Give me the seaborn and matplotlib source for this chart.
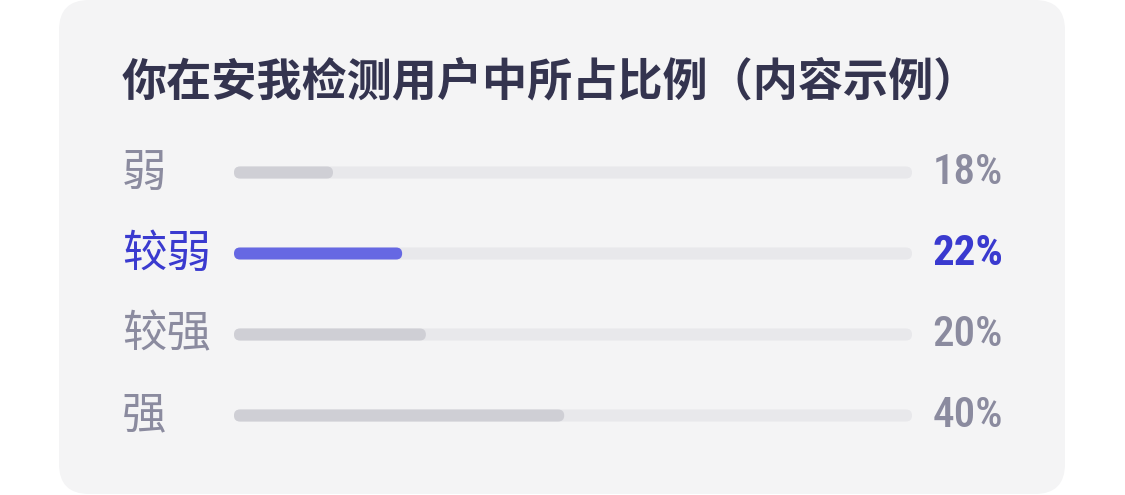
import matplotlib
matplotlib.use("Agg")
import matplotlib.pyplot as plt
from matplotlib import font_manager
from matplotlib.patches import FancyBboxPatch
import seaborn as sns
import pandas as pd

# data
levels = ["弱", "较弱", "较强", "强"]
bar_fill = [14.6, 24.8, 28.3, 48.7]      # filled share of each track (the mockup's bars)
pct_labels = [18, 22, 20, 40]             # percentages printed on the right
highlight = "较弱"
title = "你在安我检测用户中所占比例（内容示例）"

sns.set_theme(style="white")
plt.rcParams["font.family"] = ["Noto Sans CJK SC", "DejaVu Sans"]

# pick a narrow font for the numbers if one is around
fonts = font_manager.fontManager.ttflist
num_font, num_stretch = "Roboto", "normal"
for f in fonts:
    if f.name in ("Liberation Sans Narrow", "Roboto Condensed"):
        num_font, num_stretch = f.name, "normal"
        break
else:
    for f in fonts:
        if f.name == "DejaVu Sans" and f.stretch == "condensed":
            num_font, num_stretch = "DejaVu Sans", "condensed"
            break

CARD = "#f4f4f5"
TRACK = "#e8e8eb"
GRAY_FILL = "#cfcfd5"
BLUE_FILL = "#6668e3"
BLUE_TXT = "#3a3acf"
GRAY_TXT = "#8b8b9f"
TITLE_TXT = "#34344f"

W, H = 1125, 495
fig = plt.figure(figsize=(W / 100, H / 100), dpi=100, facecolor="white")

card = FancyBboxPatch((0.59, 0.01), 10.06, 4.94,
                      boxstyle="round,pad=0,rounding_size=0.3",
                      transform=fig.dpi_scale_trans, facecolor=CARD,
                      edgecolor="none", zorder=-1)
fig.patches.append(card)

# track area in pixels: x 234..912, rows 172.5..415.5
row_px = 81
ax_left, ax_w = 234, 678
ax_top = 172.5 - row_px / 2
ax_h = row_px * len(levels)
ax = fig.add_axes([ax_left / W, 1 - (ax_top + ax_h) / H, ax_w / W, ax_h / H])
ax.set_facecolor("none")

df = pd.DataFrame({"level": levels, "fill": bar_fill, "track": [100] * len(levels)})
bar_h = 12 / row_px
sns.barplot(data=df, x="track", y="level", color=TRACK, width=bar_h,
            saturation=1, ax=ax)
fill_colors = {lv: (BLUE_FILL if lv == highlight else GRAY_FILL) for lv in levels}
sns.barplot(data=df, x="fill", y="level", hue="level", palette=fill_colors,
            width=bar_h, saturation=1, legend=False, ax=ax)

ax.set_xlim(0, 100)
ax.set_ylim(len(levels) - 0.5, -0.5)
ax.set_axis_off()

# swap rectangles for pill shapes
px_per_x = ax_w / 100
aspect = (1 / row_px) / (1 / px_per_x)
for p in list(ax.patches):
    x, y, w, h = p.get_x(), p.get_y(), p.get_width(), p.get_height()
    pill = FancyBboxPatch((x, y), w, h,
                          boxstyle=f"round,pad=0,rounding_size={6 / px_per_x}",
                          mutation_aspect=aspect, facecolor=p.get_facecolor(),
                          edgecolor="none", zorder=p.get_zorder())
    p.set_visible(False)
    ax.add_patch(pill)

label_x = (122 - ax_left) / px_per_x
pct_x = (1003 - ax_left) / px_per_x
for i, (lv, pct) in enumerate(zip(levels, pct_labels)):
    c = BLUE_TXT if lv == highlight else GRAY_TXT
    ax.text(label_x, i, lv, ha="left", va="center", fontsize=32,
            color=c, clip_on=False)
    ax.text(pct_x, i, f"{pct}%", ha="right", va="center", fontsize=31,
            color=c, family=num_font, fontstretch=num_stretch,
            fontweight="bold" if lv == highlight else "medium",
            clip_on=False)

fig.text(122 / W, 1 - 82 / H, title, ha="left", va="center", fontsize=32.5,
         color=TITLE_TXT, fontweight="semibold")

fig.savefig("out.png", dpi=100, facecolor="white")
